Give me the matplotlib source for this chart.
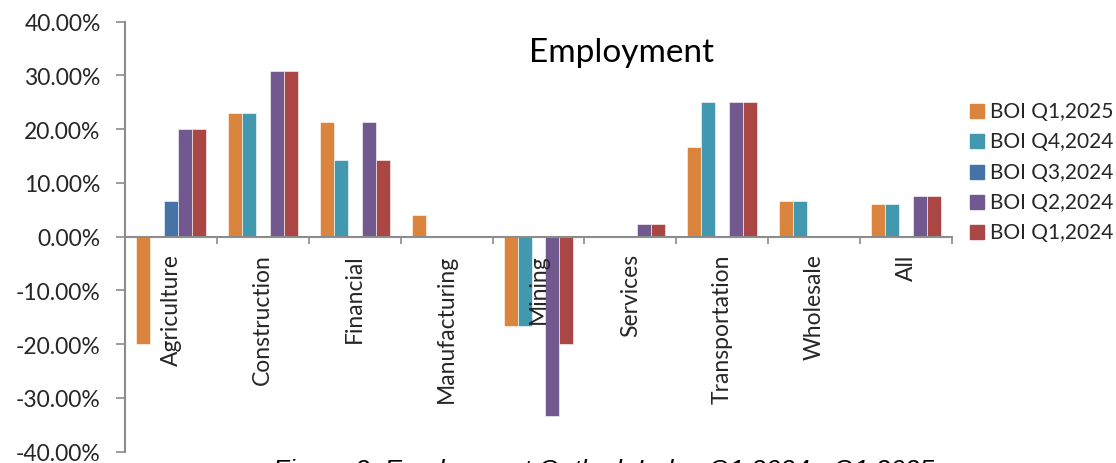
import numpy as np
import matplotlib
matplotlib.use("Agg")
import matplotlib.pyplot as plt
from matplotlib.patches import Rectangle
from matplotlib.ticker import FuncFormatter, FixedLocator

categories = ["Agriculture", "Construction", "Financial", "Manufacturing", "Mining",
              "Services", "Transportation", "Wholesale", "All"]
series_names = ["BOI Q1,2025", "BOI Q4,2024", "BOI Q3,2024", "BOI Q2,2024", "BOI Q1,2024"]

q1_2025 = [-20.0, 23.08, 21.43, 4.0, -16.67, 0.0, 16.67, 6.67, 6.0]
q4_2024 = [0.0, 23.08, 14.29, 0.0, -16.67, 0.0, 25.0, 6.67, 6.0]
q3_2024 = [6.67, 0.0, 0.0, 0.0, 0.0, 0.0, 0.0, 0.0, 0.0]
q2_2024 = [20.0, 30.77, 21.43, 0.0, -33.33, 2.38, 25.0, 0.0, 7.5]
q1_2024 = [20.0, 30.77, 14.29, 0.0, -20.0, 2.38, 25.0, 0.0, 7.5]

colors = ["#DB843D", "#4198AF", "#4572A7", "#71588F", "#AA4643"]

plt.rcParams['font.family'] = ['Lato', 'DejaVu Sans']

W, H = 1116, 464
fig = plt.figure(figsize=(W / 100, H / 100), dpi=100)
ax = fig.add_axes([125 / W, 1 - 452.7 / H, (952 - 125) / W, (452.7 - 22.7) / H])

x = np.arange(len(categories))
bw = 0.152
all_series = [q1_2025, q4_2024, q3_2024, q2_2024, q1_2024]
for i, (vals, name, c) in enumerate(zip(all_series, series_names, colors)):
    ax.bar(x + (i - 2) * bw, vals, bw, color=c, label=name, edgecolor="white", linewidth=0.4)

ax.set_xlim(-0.5, len(categories) - 0.5)
ax.set_ylim(-40, 40)
ax.set_yticks(np.arange(-40, 41, 10))
ax.yaxis.set_major_formatter(FuncFormatter(lambda v, p: "%.2f%%" % v))

gray = "#8C8C8C"
for s in ["top", "right"]:
    ax.spines[s].set_visible(False)
ax.spines["left"].set_color(gray)
ax.spines["left"].set_linewidth(1.5)
ax.spines["bottom"].set_position(("data", 0))
ax.spines["bottom"].set_color(gray)
ax.spines["bottom"].set_linewidth(1.5)

ax.tick_params(axis="y", direction="out", length=6.5, width=1.2, color=gray,
               labelsize=16.5, labelcolor="#262626", pad=11)
ax.set_xticks(x)
ax.set_xticklabels(categories, rotation=90, fontsize=16.5, color="#262626")
ax.tick_params(axis="x", which="major", length=0, pad=12, labelcolor="#262626")
ax.xaxis.set_minor_locator(FixedLocator(np.arange(-0.5, len(categories), 1.0)))
ax.tick_params(axis="x", which="minor", direction="out", length=5, width=1.2, color=gray)

fig.text(622 / W, 1 - 62 / H, "Employment", fontsize=24, ha="center", va="baseline", color="black")

# legend drawn by hand so the rows land where the reference has them
row_y = 112
for name, c in zip(series_names, colors):
    fig.patches.append(Rectangle((970 / W, 1 - (row_y + 7) / H), 14 / W, 14 / H,
                                 transform=fig.transFigure, color=c))
    fig.text(990 / W, 1 - row_y / H, name, fontsize=15, color="#262626", va="center", ha="left")
    row_y += 30.3

fig.text(273 / W, 1 - 459 / H, "Figure 2: Employment Outlook Index Q1 2024 - Q1 2025",
         fontsize=19, style="italic", family="Liberation Sans", ha="left", va="top")

fig.savefig("out.png", dpi=100)
